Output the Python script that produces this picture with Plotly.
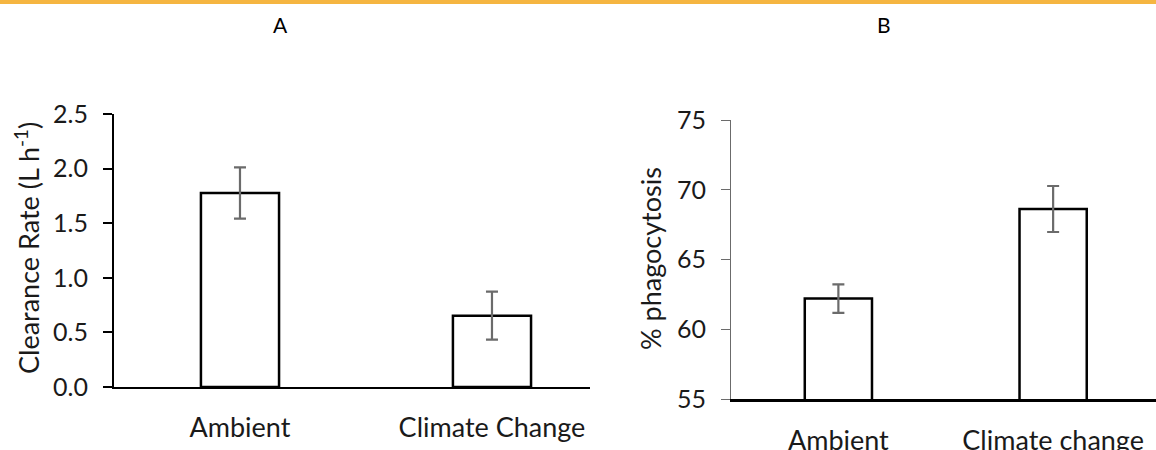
import plotly.graph_objects as go

W, H = 1156, 450

# Panel A data
cats_a = ["Ambient", "Climate Change"]
vals_a = [1.777, 0.653]
err_a = [0.235, 0.22]

# Panel B data
cats_b = ["Ambient", "Climate change"]
vals_b = [62.2, 68.62]
err_b = [1.02, 1.65]

yticks_a = [0.0, 0.5, 1.0, 1.5, 2.0, 2.5]
yticks_b = [55, 60, 65, 70, 75]

FONT = "Lato"
TXT = "#1a1a1a"

fig = go.Figure()

fig.add_trace(go.Bar(
    x=[0, 1], y=vals_a, width=0.31,
    marker=dict(color="white", line=dict(color="black", width=2.5)),
    error_y=dict(type="data", array=err_a, color="#6b6b6b", thickness=2.2, width=6),
    xaxis="x", yaxis="y", showlegend=False,
))
fig.add_trace(go.Bar(
    x=[0, 1], y=vals_b, width=0.313,
    marker=dict(color="white", line=dict(color="black", width=2.5)),
    error_y=dict(type="data", array=err_b, color="#6b6b6b", thickness=2.2, width=6),
    xaxis="x2", yaxis="y2", showlegend=False,
))

def px_x(p):
    return p / W

def px_y(p):
    return (H - p) / H

fig.update_layout(
    width=W, height=H,
    margin=dict(l=0, r=0, t=0, b=0),
    paper_bgcolor="white", plot_bgcolor="white",
    font=dict(family=FONT, color=TXT, size=25),
    xaxis=dict(domain=[px_x(114), px_x(590)], range=[-0.5, 1.389],
               tickvals=[0, 1], ticktext=cats_a, ticks="", showgrid=False,
               zeroline=False, showline=True, linecolor="black", linewidth=2,
               tickfont=dict(size=27), ticklabelstandoff=16, automargin=False,
               anchor="y"),
    yaxis=dict(domain=[px_y(387), px_y(114)], range=[0, 2.5],
               tickvals=yticks_a, ticktext=[f"{v:.1f}" for v in yticks_a],
               ticks="outside", ticklen=9, tickwidth=2, tickcolor="black",
               showgrid=False, zeroline=False, showline=True, linecolor="black",
               linewidth=2, tickfont=dict(size=25), ticklabelstandoff=10,
               automargin=False, anchor="x"),
    xaxis2=dict(domain=[px_x(731), 1.0], range=[-0.5, 1.479],
                tickvals=[0, 1], ticktext=cats_b, ticks="", showgrid=False,
                zeroline=False, showline=True, linecolor="black", linewidth=2.5,
                tickfont=dict(size=27), ticklabelstandoff=16, automargin=False,
                anchor="y2"),
    yaxis2=dict(domain=[px_y(399), px_y(120)], range=[55, 75],
                tickvals=yticks_b, ticktext=[str(v) for v in yticks_b],
                ticks="outside", ticklen=9, tickwidth=1.2, tickcolor="#6b6b6b",
                showgrid=False, zeroline=False, showline=True, linecolor="#6b6b6b",
                linewidth=1.2, tickfont=dict(size=25), ticklabelstandoff=10,
                automargin=False, anchor="x2"),
    shapes=[dict(type="rect", xref="paper", yref="paper", x0=0, x1=1,
                 y0=1 - 4 / H, y1=1, fillcolor="#F5B541", line=dict(width=0))],
    annotations=[
        dict(text="A", x=px_x(280), y=px_y(24), xref="paper", yref="paper",
             showarrow=False, font=dict(size=21, color="black"),
             xanchor="center", yanchor="middle"),
        dict(text="B", x=px_x(884), y=px_y(24), xref="paper", yref="paper",
             showarrow=False, font=dict(size=21, color="black"),
             xanchor="center", yanchor="middle"),
        dict(text="Clearance Rate (L h<sup>-1</sup>)", x=px_x(27), y=px_y(248),
             xref="paper", yref="paper", showarrow=False, textangle=-90,
             font=dict(size=27), xanchor="center", yanchor="middle"),
        dict(text="% phagocytosis", x=px_x(650), y=px_y(259),
             xref="paper", yref="paper", showarrow=False, textangle=-90,
             font=dict(size=27), xanchor="center", yanchor="middle"),
    ],
)

fig.write_html("out.html",
               config={"displayModeBar": False},
               post_script="document.body.style.margin='0';document.body.style.padding='0';")
